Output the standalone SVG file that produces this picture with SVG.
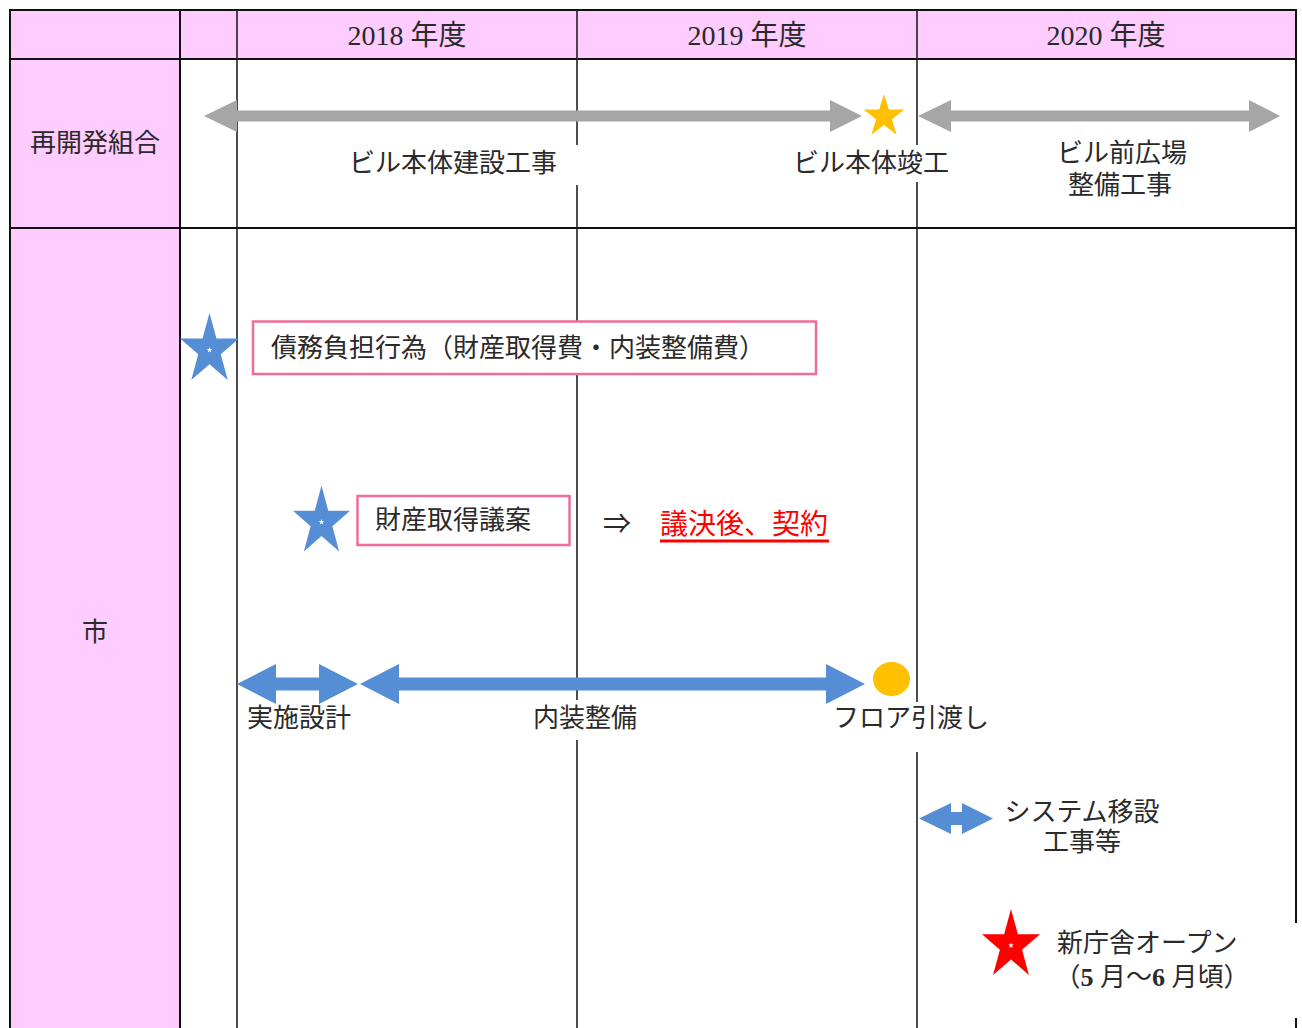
<svg xmlns="http://www.w3.org/2000/svg" width="1302" height="1028" viewBox="0 0 1302 1028">
<style>
.t{font-family:"Noto Sans CJK JP",sans-serif;font-size:26px;fill:#2a2a2a}
.s{font-family:"Liberation Serif","Noto Sans CJK JP",serif;font-size:26px;fill:#2a2a2a}
.h{font-size:28px}
.m{text-anchor:middle}
.g{stroke:#111;stroke-width:2;fill:none}
.v{stroke:#222;stroke-width:1.6;fill:none}
.pk{fill:#fff;stroke:#F06C9B;stroke-width:2.5}
.gray{fill:#A6A6A6}
.blue{fill:#558ED5}
</style>
<defs>
<path id="star" d="M0,-1 L0.2245,-0.309 L0.951,-0.309 L0.3633,0.118 L0.5878,0.809 L0,0.382 L-0.5878,0.809 L-0.3633,0.118 L-0.951,-0.309 L-0.2245,-0.309 Z"/>
</defs>
<rect width="1302" height="1028" fill="#fff"/>
<g id="grid">
<rect x="10" y="10" width="1286" height="49" fill="#FFCCFF"/>
<rect x="10" y="59" width="170" height="969" fill="#FFCCFF"/>
<path class="g" d="M10,1028 V10 H1296 V923 M1296,1018 V1028 M10,59 H1296 M10,228 H1296 M180,10 V1028"/>
<path class="v" d="M237,10 V1028 M577,10 V145 M577,185 V700 M577,740 V1028 M917,10 V145 M917,182 V702 M917,752 V1028"/>
</g>
<g id="headers">
<text class="s h m" x="407" y="45">2018 年度</text>
<text class="s h m" x="747" y="45">2019 年度</text>
<text class="s h m" x="1106" y="45">2020 年度</text>
<text class="t m" x="95" y="152">再開発組合</text>
<text class="t m" x="95" y="641">市</text>
</g>
<g id="connectors">
<path class="gray" d="M204,116 L237,100 L237,110.5 L830,110.5 L830,100 L862,116 L830,132 L830,121.5 L237,121.5 L237,132 Z"/>
<path class="gray" d="M918,116 L951,100 L951,110.5 L1249,110.5 L1249,100 L1280,116 L1249,132 L1249,121.5 L951,121.5 L951,132 Z"/>
<path class="blue" d="M237,684 L276,664 L276,677.5 L319,677.5 L319,664 L358,684 L319,704 L319,690.5 L276,690.5 L276,704 Z"/>
<path class="blue" d="M360,684 L399,664 L399,677.5 L826,677.5 L826,664 L865,684 L826,704 L826,690.5 L399,690.5 L399,704 Z"/>
<path class="blue" d="M919,818.5 L951,803 L951,812 L962,812 L962,803 L993,818.5 L962,834 L962,825 L951,825 L951,834 Z"/>
</g>
<g id="n-building">
<text class="t m" x="453" y="172">ビル本体建設工事</text>
</g>
<g id="n-completion">
<use href="#star" transform="translate(884,116.5) scale(21.5,22.5)" fill="#FFC000"/>
<text class="t m" x="871" y="172">ビル本体竣工</text>
</g>
<g id="n-plaza">
<text class="t m" x="1122" y="162">ビル前広場<tspan x="1120" dy="32">整備工事</tspan></text>
</g>
<g id="n-debt">
<use href="#star" transform="translate(209.5,350) scale(31,37)" fill="#558ED5"/>
<use href="#star" transform="translate(209.5,350) scale(3)" fill="#fff"/>
<rect class="pk" x="253" y="321.5" width="563" height="52.5"/>
<text class="t" x="271" y="357">債務負担行為（財産取得費・内装整備費）</text>
</g>
<g id="n-bill">
<use href="#star" transform="translate(321.5,522) scale(30,36.5)" fill="#558ED5"/>
<use href="#star" transform="translate(321.5,522) scale(3)" fill="#fff"/>
<rect class="pk" x="357.5" y="496" width="212" height="49"/>
<text class="t" x="375" y="529">財産取得議案</text>
<text class="t" x="603" y="534" style="font-size:28px">⇒</text>
<text x="660" y="534" style="font-family:'Noto Sans CJK JP',sans-serif;font-size:28px;fill:#FF0000">議決後、契約</text>
<rect x="660" y="539.5" width="169" height="3" fill="#FF0000"/>
</g>
<g id="n-design">
<text class="t m" x="299" y="727">実施設計</text>
</g>
<g id="n-interior">
<text class="t m" x="585" y="727">内装整備</text>
</g>
<g id="n-handover">
<ellipse cx="891.5" cy="679" rx="18.5" ry="17" fill="#FFC000"/>
<text class="t m" x="911" y="727">フロア引渡し</text>
</g>
<g id="n-system">
<text class="t m" x="1082" y="821">システム移設<tspan x="1082" dy="30">工事等</tspan></text>
</g>
<g id="n-open">
<use href="#star" transform="translate(1011,945.5) scale(30.5,36.5)" fill="#FF0000"/>
<use href="#star" transform="translate(1011,945.5) scale(3)" fill="#fff"/>
<text class="t" x="1057" y="952">新庁舎オープン</text>
<text class="s m" x="1152" y="986">（<tspan font-weight="bold">5</tspan> 月～<tspan font-weight="bold">6</tspan> 月頃）</text>
</g>
</svg>
